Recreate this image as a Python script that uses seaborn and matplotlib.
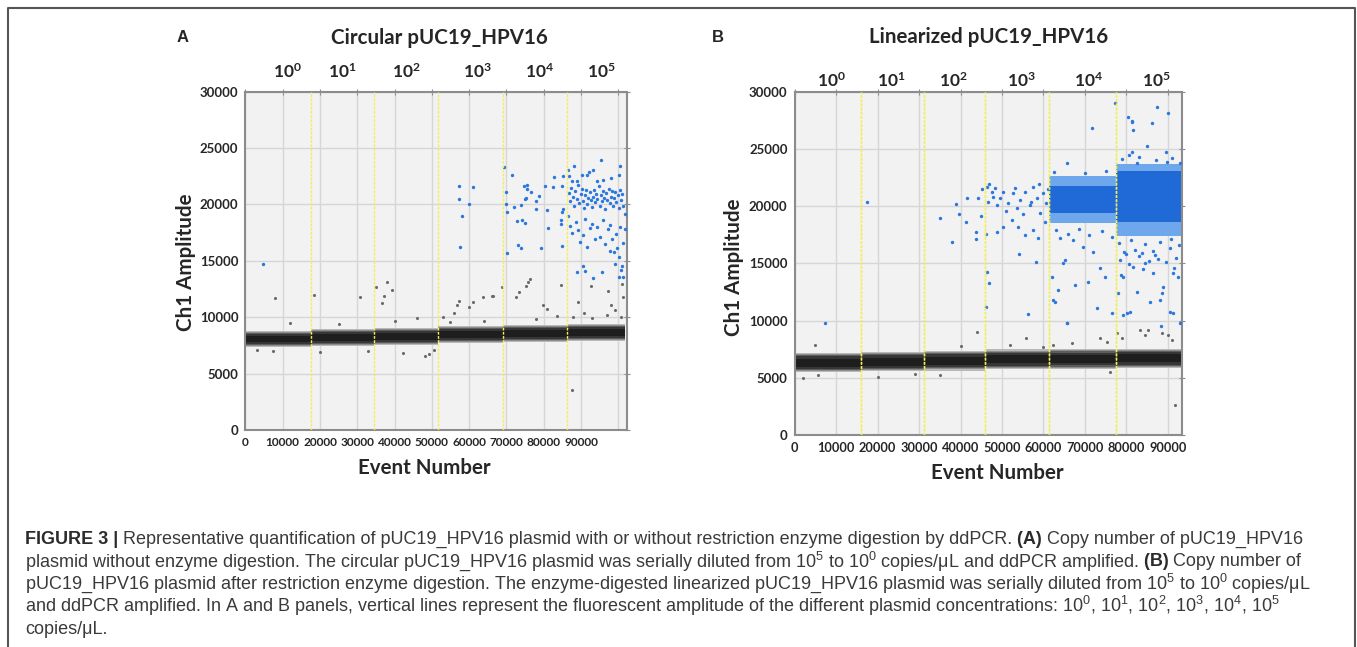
import seaborn as sns
import matplotlib.pyplot as plt
import matplotlib.transforms as mtransforms
from matplotlib.lines import Line2D

sns.set_style("white")
plt.rcParams["font.family"] = ["Lato", "DejaVu Sans"]
plt.rcParams["mathtext.fontset"] = "custom"
plt.rcParams["mathtext.bf"] = "Lato:bold"
plt.rcParams["mathtext.rm"] = "Liberation Sans"

# ---------------- data ----------------
conc_labels = ["0", "1", "2", "3", "4", "5"]

# panel A : circular plasmid
a_edges = [0, 17500, 34400, 51600, 69000, 86200, 101800]
a_label_x = [11400, 25900, 43300, 62100, 79000, 95600]
a_neg_mid = [8050, 8200, 8300, 8450, 8550, 8650]
a_neg_core = [280, 280, 300, 300, 300, 310]
a_neg_outer = [720, 730, 760, 750, 750, 730]

a_pos_x = [4630, 57270, 57270, 58000, 57540, 60030, 61100,
           69410, 71480, 69790, 69870, 70050, 70050, 72010, 73800, 74690,
           75410, 75570, 76480, 75230, 74960, 77830, 78710, 77830, 72900,
           74070, 75040, 73160, 73890, 79250, 80940, 81130, 80400, 82810,
           82550, 84880, 85070, 84800, 84690, 84690, 84800, 85230,
           86410, 88020, 90320, 91500, 93110, 95420, 95960, 97930, 100430,
           100080, 86840, 87480, 88820, 92120, 94180,
           86700, 87100, 87400, 87800, 88200, 88500, 88900, 89200, 89500,
           89900, 90200, 90500, 90800, 91100, 91400, 91700, 92000, 92300,
           92600, 92900, 93200, 93500, 93800, 94100, 94400, 94700, 95000,
           95300, 95600, 95900, 96200, 96500, 96800, 97100, 97400, 97700,
           98000, 98300, 98600, 98900, 99200, 99500, 99800, 100100, 100400,
           100700, 101000, 101300,
           86600, 87000, 87700, 88600, 89300, 89800, 90600, 91200, 91600,
           92400, 93000, 93700, 94300, 95100, 95800, 96400, 97200, 97900,
           98400, 98800, 99300, 99700, 100100, 100500, 100900, 101300, 99000,
           100600, 90500, 91000, 93200, 95700, 97700, 101200, 100200, 89000,
           101700, 101700]
a_pos_y = [14760, 21670, 20520, 18960, 16230, 20050, 21520,
           23280, 22610, 21080, 20050, 19290, 15730, 19760, 19930, 21610,
           21700, 21410, 21110, 20580, 20490, 20290, 20790, 19610, 18520,
           18580, 18350, 16410, 16110, 16170, 19550, 17880, 21670, 22430,
           21520, 21610, 19640, 19320, 18610, 18230, 16320, 22490,
           23080, 23370, 22640, 22640, 23080, 23900, 22200, 22340, 23430,
           22580, 22490, 22050, 22050, 22840, 22050,
           21000, 20300, 21500, 20700, 19900, 21200, 20500, 21700, 20100,
           20900, 21400, 20300, 19700, 20800, 21300, 20000, 20600, 21100,
           20400, 19800, 20700, 21300, 20200, 20900, 20500, 21600, 19900,
           20800, 20300, 21200, 20600, 19600, 21000, 20400, 21400, 20100,
           20700, 21200, 19900, 20600, 21100, 20200, 20800, 19700, 21300,
           20400, 20900, 19900,
           19000, 18100, 17500, 18400, 17700, 16700, 17300, 18700, 16200,
           17900, 18300, 16900, 18000, 17100, 18600, 16500, 17800, 18200,
           16900, 15800, 17400, 16100, 15300, 18000, 14500, 16600, 14700,
           14200, 14500, 14100, 13500, 14000, 15900, 13600, 13600, 14000,
           17790, 19140]

a_rain_x = [7940, 18390, 30720, 35010, 37880, 37160, 36700, 39220, 57270,
            56650, 55920, 61100, 63620, 66460, 53060, 76300, 75850, 75230,
            73350, 72550, 68870, 66190, 60030, 79870, 80780, 83460, 84610,
            89170, 90860, 92570, 97300, 97940, 99090, 100890, 101320, 87910,
            100700, 87480, 42330, 48150, 49300, 50560, 7480,
            12000, 25000, 40000, 46000, 55000, 64000, 78000, 93000, 97000,
            20000, 33000, 3000]
a_rain_y = [11700, 11940, 11760, 12640, 13080, 11910, 11230, 12410, 11470,
            11090, 10350, 11380, 11820, 11880, 9990, 13430, 13080, 12790,
            12200, 11760, 12700, 11910, 10880, 11110, 10730, 10080, 12850,
            11320, 10350, 12790, 12350, 11090, 10650, 12940, 11820, 9990,
            9990, 3590, 6850, 6550, 6760, 7110, 7030,
            9500, 9400, 9700, 9900, 9600, 9700, 9800, 9900, 10200,
            6900, 7000, 7100]

# panel B : linearized plasmid
b_edges = [0, 16000, 31200, 45800, 61400, 77500, 93100]
b_label_x = [8960, 23420, 38270, 54740, 70800, 87280]
b_neg_mid = [6320, 6410, 6490, 6610, 6640, 6700]
b_neg_core = [340, 340, 350, 350, 350, 350]
b_neg_outer = [860, 860, 870, 870, 860, 850]

b_blk_edges = [61400, 77500, 93100]
b_blk_lo = [18500, 17400]
b_blk_hi = [22600, 23700]
b_core_lo = [19400, 18600]
b_core_hi = [21800, 23100]

b_pos_x = [7350, 17540, 35060, 37880, 38920, 39710, 41490, 41250, 43660,
           43730, 44290, 44940, 46070, 46460, 46940, 46070, 46310, 47520,
           48310, 47900, 46700, 49520, 50310, 51520, 52720, 53530, 54340,
           55540, 56750, 57540, 58360, 59160, 59950, 60600, 52330, 53930,
           55540, 57540, 58750, 54170, 56340, 58190, 50310, 48710,
           45300, 46900, 48900, 50900, 53100, 55000, 57000, 59000, 60300, 61000,
           61980, 62360, 62770, 63570, 64770, 65590, 67590, 70800, 72820,
           73610, 74820, 76430, 71610, 65590, 63980, 67180, 69590, 72000,
           65180, 81250, 81650, 86070, 84870, 81250, 89520, 89690, 92890,
           82460, 77230, 87280, 80430, 81400, 90070, 78020, 79230, 80050,
           80840, 78600, 79230, 82460, 85660, 88070, 88480, 88870, 90480,
           91280, 92480, 92890, 84460, 86460, 81640, 91280, 65590, 88310,
           63000, 66000, 68500, 71000, 74000, 76500, 62500, 70000, 75000,
           78500, 80500, 83000, 85500, 87500, 89500, 92000, 79500, 82000,
           86500, 90500, 84000, 91500, 79000, 83000, 87000, 91000, 80500,
           78200, 81000, 84500, 88000, 90800, 92600, 79800, 83800, 86800]
b_pos_y = [9760, 20330, 18940, 16840, 20160, 19310, 20740, 18640, 17130,
           17710, 20740, 19140, 17540, 14270, 13260, 11160, 21700, 21260,
           21560, 20830, 20390, 20690, 21260, 20250, 21120, 19810, 20540,
           21260, 20100, 21700, 20690, 19370, 21120, 20250, 18790, 18200,
           17480, 17920, 17190, 15820, 10550, 15090, 18200, 17770,
           21500, 21900, 20100, 19600, 21600, 19300, 20400, 21900, 18600, 21500,
           13830, 11800, 11650, 12670, 15000, 9760, 13110, 13400, 11070,
           14570, 13830, 10640, 26800, 23740, 17190, 17040, 16460, 16020,
           15290, 27380, 26650, 27290, 25260, 24760, 24760, 23880, 23740,
           23740, 29040, 28690, 27760, 27440, 28110, 12380, 10490, 10640,
           10780, 13980, 13830, 12520, 11650, 11800, 12380, 12960, 10780,
           10640, 13830, 9760, 15000, 14130, 14710, 14130, 9810, 9530,
           17900, 17600, 18000, 17500, 17800, 17300, 23000, 22900, 23100,
           15300, 14900, 15600, 15200, 15400, 15100, 15500, 16000, 16200,
           16100, 16300, 14500, 14600, 24100, 24300, 24000, 24200, 24500,
           16800, 17000, 16700, 16900, 17100, 16600, 15800, 15900, 15700]

b_rain_x = [43900, 55780, 62360, 66940, 73610, 75370, 77640, 78840, 83250,
            85250, 84460, 88480, 90070, 90890, 91690, 59950,
            2050, 5740, 20000, 35000, 29000, 76000, 5000, 40000, 52000]
b_rain_y = [9030, 8450, 7870, 8010, 8450, 8150, 8940, 8450, 9180,
            9180, 8740, 8890, 8740, 8300, 2620, 7720,
            4960, 5240, 5100, 5200, 5300, 5500, 7900, 7800, 7900]

caption = [
    [("FIGURE 3 |", True),
     (" Representative quantification of pUC19_HPV16 plasmid with or without "
      "restriction enzyme digestion by ddPCR.", False),
     (" (A)", True), (" Copy number of pUC19_HPV16", False)],
    [("plasmid without enzyme digestion. The circular pUC19_HPV16 plasmid was "
      "serially diluted from 10$^{5}$ to 10$^{0}$ copies/\u03bcL and ddPCR amplified.", False),
     (" (B)", True), (" Copy number of", False)],
    [("pUC19_HPV16 plasmid after restriction enzyme digestion. The enzyme-digested "
      "linearized pUC19_HPV16 plasmid was serially diluted from 10$^{5}$ to 10$^{0}$ "
      "copies/\u03bcL", False)],
    [("and ddPCR amplified. In A and B panels, vertical lines represent the "
      "fluorescent amplitude of the different plasmid concentrations: 10$^{0}$, 10$^{1}$, "
      "10$^{2}$, 10$^{3}$, 10$^{4}$, 10$^{5}$", False)],
    [("copies/\u03bcL.", False)],
]

# ---------------- figure ----------------
fig = plt.figure(figsize=(13.57, 6.47), dpi=100)
ax_a = fig.add_axes([0.1808, 0.3354, 0.2810, 0.5229])
ax_b = fig.add_axes([0.5855, 0.3277, 0.2853, 0.5306])

# shades used to give the negative band a dark core and a grey fringe
band_shades = [(1.0, "#b8b8b8"), (0.8, "#8c8c8c"), (0.6, "#5c5c5c"), (0.4, "#363636")]


def draw_panel(ax, edges, neg_mid, neg_core, neg_outer, rain_x, rain_y,
               pos_x, pos_y, xmax, last_tick, label_x, label_y, xfs):
    ax.set_facecolor("#f2f2f2")
    ax.set_xlim(0, xmax)
    ax.set_ylim(0, 30000)
    xt = list(range(0, last_tick + 1, 10000))
    ax.set_xticks(xt)
    ax.set_xticklabels([str(v) if v < 100000 else "" for v in xt],
                       fontsize=xfs, fontweight="bold")
    ax.set_yticks(range(0, 30001, 5000))
    ax.set_yticklabels([str(v) for v in range(0, 30001, 5000)],
                       fontsize=9.5, fontweight="bold")
    ax.grid(True, color="#d6d6d6", lw=1)
    ax.set_axisbelow(True)
    ax.tick_params(axis="both", which="both", direction="inout", length=4,
                   color="#8c8c8c", pad=3, top=True, right=True)
    for sp in ax.spines.values():
        sp.set_color("#8c8c8c")
        sp.set_linewidth(1.5)

    # negative droplet band
    for i in range(len(neg_mid)):
        xs = [edges[i], edges[i + 1]]
        for frac, col in band_shades:
            half = neg_core[i] + frac * (neg_outer[i] - neg_core[i])
            ax.fill_between(xs, neg_mid[i] - half, neg_mid[i] + half,
                            color=col, lw=0, zorder=2)
        ax.fill_between(xs, neg_mid[i] - neg_core[i], neg_mid[i] + neg_core[i],
                        color="#1e1e1e", lw=0, zorder=2)

    sns.scatterplot(x=rain_x, y=rain_y, color="#6a6a6a", s=5, linewidth=0,
                    ax=ax, zorder=3)
    sns.scatterplot(x=pos_x, y=pos_y, color="#2a78de", s=6, linewidth=0,
                    ax=ax, zorder=4)

    for xv in edges[1:-1]:
        ax.axvline(xv, color="#f2ee55", lw=1, ls=(0, (2, 1)), zorder=5)

    trans = mtransforms.blended_transform_factory(ax.transData, fig.transFigure)
    for xv, lab in zip(label_x, conc_labels):
        ax.text(xv, label_y, r"$\mathbf{10^{%s}}$" % lab, transform=trans,
                ha="center", va="center", fontsize=12.5)


draw_panel(ax_a, a_edges, a_neg_mid, a_neg_core, a_neg_outer, a_rain_x, a_rain_y,
           a_pos_x, a_pos_y, 102250, 100000, a_label_x, 0.8887, 8.6)
draw_panel(ax_b, b_edges, b_neg_mid, b_neg_core, b_neg_outer, b_rain_x, b_rain_y,
           b_pos_x, b_pos_y, 93300, 90000, b_label_x, 0.8748, 9.2)

# dense positive blocks in panel B
for i in range(len(b_blk_lo)):
    xs = [b_blk_edges[i], b_blk_edges[i + 1]]
    ax_b.fill_between(xs, b_blk_lo[i], b_blk_hi[i], color="#6ea7ec", lw=0, zorder=3)
    ax_b.fill_between(xs, b_core_lo[i], b_core_hi[i], color="#1f6ad6", lw=0, zorder=3)
for xv in b_edges[1:-1]:
    ax_b.axvline(xv, color="#f2ee55", lw=1, ls=(0, (2, 1)), zorder=5)

# titles and axis labels
lab_font = dict(fontsize=14.8, fontweight="bold", ha="center", va="center")
fig.text(0.1349, 0.9428, "A", fontsize=12, fontweight="bold", ha="center", va="center",
         family=["Liberation Sans", "DejaVu Sans"])
fig.text(0.5291, 0.9428, "B", fontsize=12, fontweight="bold", ha="center", va="center",
         family=["Liberation Sans", "DejaVu Sans"])
fig.text(0.3240, 0.9413, "Circular pUC19_HPV16", **lab_font)
fig.text(0.7288, 0.9428, "Linearized pUC19_HPV16", **lab_font)
fig.text(0.3125, 0.2767, "Event Number", **lab_font)
fig.text(0.7347, 0.2689, "Event Number", **lab_font)
fig.text(0.1370, 0.5950, "Ch1 Amplitude", rotation=90, **lab_font)
fig.text(0.5409, 0.5870, "Ch1 Amplitude", rotation=90, **lab_font)

# outer frame (open at the bottom)
fx0, fx1, fy1 = 8 / 1357, 1355 / 1357, 1 - 8 / 647
fig.add_artist(Line2D([fx0, fx0, fx1, fx1], [0, fy1, fy1, 0],
                      transform=fig.transFigure, color="#555555", lw=1.5))

# caption, pieces placed one after another on a common baseline
renderer = fig.canvas.get_renderer()
cap_family = ["Liberation Sans", "DejaVu Sans"]
line_y = [1 - 544 / 647, 1 - 566.5 / 647, 1 - 589 / 647, 1 - 611.5 / 647, 1 - 634 / 647]
for y, parts in zip(line_y, caption):
    x_px = 25
    for text, bold in parts:
        t = fig.text(x_px / 1357, y, text, fontsize=13,
                     color="#2b2b2b" if bold else "#3a3a3a",
                     fontweight="bold" if bold else "normal", family=cap_family,
                     ha="left", va="baseline")
        x_px = t.get_window_extent(renderer).x1

fig.savefig("out.png", dpi=100)
